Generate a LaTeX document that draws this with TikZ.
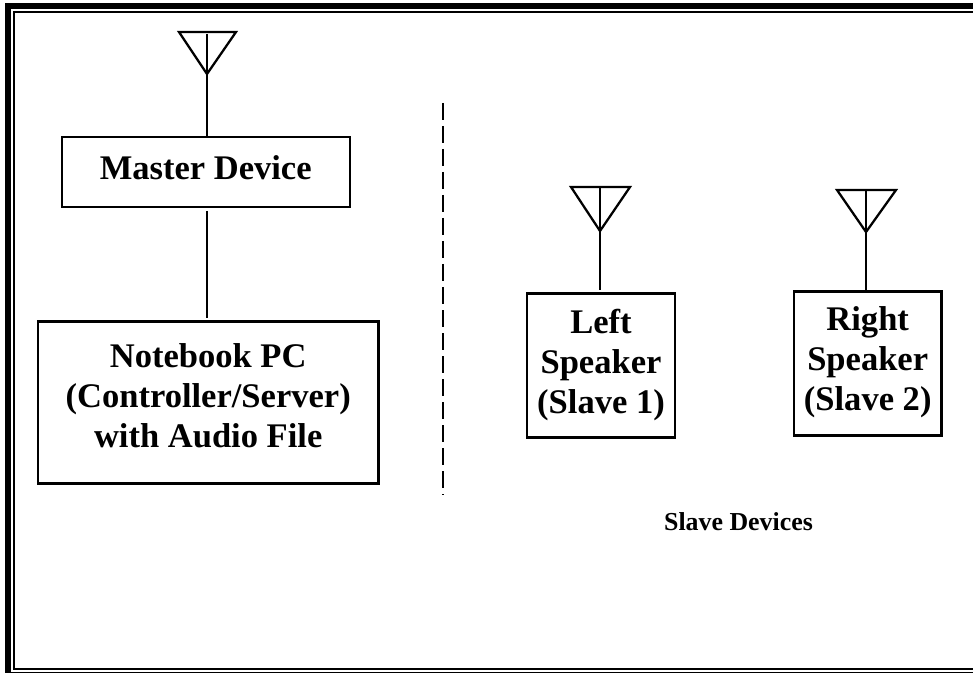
\documentclass[tikz,border=0pt]{standalone}
\usepackage{fontspec}
\setmainfont{Liberation Serif}
\tikzset{
  wire/.style={line width=1.7pt,line cap=butt},
  frame thick/.style={line width=4.3pt},
  frame thin/.style={line width=1.7pt},
  devbox/.style={draw,line width=1.7pt,inner sep=0pt,outer sep=0pt,align=center,
    font=\fontsize{25.9}{30}\selectfont\bfseries},
  ant/.style={line width=1.7pt,line join=miter},
  cap text/.style={inner sep=0pt,font=\fontsize{19.4}{23}\selectfont\bfseries}
}
\begin{document}
\begin{tikzpicture}[x=0.75pt,y=-0.75pt]
\useasboundingbox (0,0) rectangle (973,673);
\clip (0,0) rectangle (973,673);
% frame (open at right edge, outer bottom cut by the page)
\draw[frame thick] (980,6.2) -- (8,6.2) -- (8,674.6) -- (980,674.6);
\draw[frame thin] (980,12) -- (14,12) -- (14,669) -- (980,669);
% boxes
\node[devbox,minimum width=216pt,minimum height=52pt,text depth=6pt] (master) at (205.7,172) {Master Device};
\node[devbox,minimum width=255.5pt,minimum height=121.5pt,text depth=9.8pt] (pc) at (208.2,402.5) {Notebook PC\\(Controller/Server)\\with Audio File};
\node[devbox,minimum width=110.5pt,minimum height=108pt,text depth=7pt] (left) at (601,365.6) {Left\\Speaker\\(Slave 1)};
\node[devbox,minimum width=110.5pt,minimum height=108pt,text depth=7pt] (right) at (867.7,363.6) {Right\\Speaker\\(Slave 2)};
\node[cap text] (slaves) at (738.5,522) {Slave Devices};
% antennas
\coordinate (a1) at (207,74);
\coordinate (a2) at (600,231);
\coordinate (a3) at (866,232);
\draw[ant] (179,32) -- (236,32) -- (a1) -- cycle;
\draw[ant] (571,187) -- (630,187) -- (a2) -- cycle;
\draw[ant] (837,190) -- (896,190) -- (a3) -- cycle;
\draw[wire] (207,34) -- (a1) -- (a1 |- master.north);
\draw[wire,shorten >=3pt] (600,187) -- (a2) -- (a2 |- left.north);
\draw[wire] (866,190) -- (a3) -- (a3 |- right.north);
% master to notebook
\coordinate (link) at (207,211);
\draw[wire,shorten >=3pt] (link) -- (link |- pc.north);
% divider
\coordinate (d1) at (443,103);
\coordinate (d2) at (443,495);
\draw[line width=1.5pt,dash pattern=on 12.75pt off 4.5pt] (d1) -- (d2);
\end{tikzpicture}
\end{document}
